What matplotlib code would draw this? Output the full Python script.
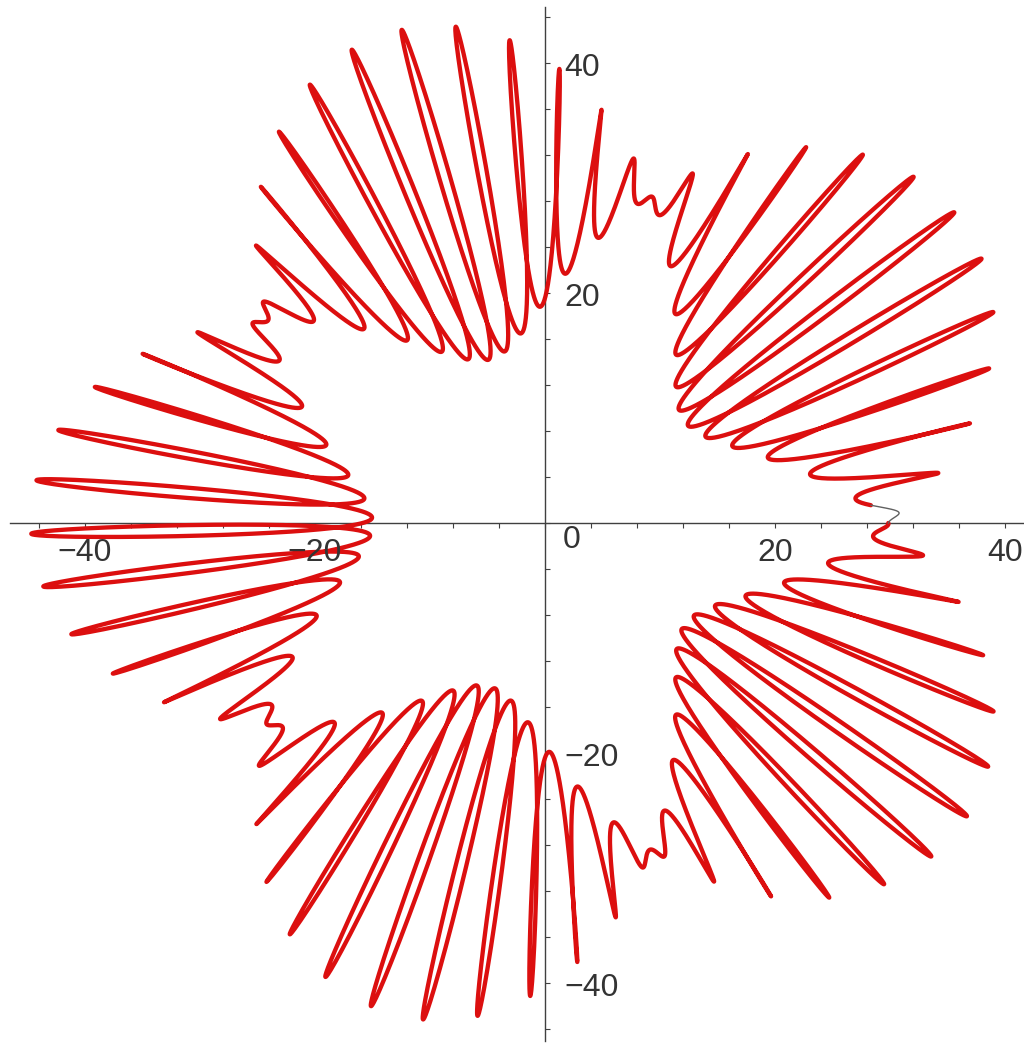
import numpy as np
import matplotlib
matplotlib.use("Agg")
import matplotlib.pyplot as plt
from matplotlib.ticker import MultipleLocator

# Curve parameters: a circle of radius mean_radius carrying 60 narrow loops
# whose radial swing is modulated into 5 lobes.
mean_radius = 29.85
swing = 14.85
loop_width = 1.25
lobes = 5
petals = 60
petal_phase_deg = -72.0
faint_span_deg = 3.4          # first stretch of the curve is drawn faint

tick_values = [-40, -20, 20, 40]
tick_texts = ["\u221240", "\u221220", "20", "40"]
minor_step = 4

t = np.linspace(0.0, 2.0 * np.pi, 40001)
envelope = np.sin(lobes * t / 2.0)
psi = petals * t + np.deg2rad(petal_phase_deg)
w = mean_radius + envelope * (swing * np.cos(psi) - 1j * loop_width * np.sin(psi))
z = np.exp(1j * t) * w
x, y = z.real, z.imag

px_per_unit = 11.5
W, H = 1024, 1044
ox, oy = 545, 523

fig = plt.figure(figsize=(W / 100, H / 100), dpi=100)
ax = fig.add_axes([0, 0, 1, 1])
ax.set_xlim(-ox / px_per_unit, (W - ox) / px_per_unit)
ax.set_ylim(-(H - oy) / px_per_unit, oy / px_per_unit)

faint = t <= np.deg2rad(faint_span_deg)
ax.plot(x[~faint], y[~faint], color="#dc0f0f", lw=3.1, solid_capstyle="round",
        solid_joinstyle="round", zorder=3)
ax.plot(x[faint], y[faint], color="#606060", lw=1.0, zorder=3)

# axes through the origin
for side in ("top", "right"):
    ax.spines[side].set_visible(False)
ax.spines["left"].set_position(("data", 0))
ax.spines["bottom"].set_position(("data", 0))
ax.spines["bottom"].set_bounds(-46.5, 41.6)
ax.spines["left"].set_bounds(-45.0, 44.9)
for side in ("left", "bottom"):
    ax.spines[side].set_color("#404040")
    ax.spines[side].set_linewidth(1.0)
    ax.spines[side].set_zorder(2)

ax.xaxis.set_major_locator(MultipleLocator(minor_step))
ax.yaxis.set_major_locator(MultipleLocator(minor_step))
ax.tick_params(axis="x", direction="out", length=3.6, width=0.8, color="#404040",
               labelbottom=False)
ax.tick_params(axis="y", direction="in", length=3.6, width=0.8, color="#404040",
               labelleft=False)

label_style = dict(family="Liberation Sans", fontsize=23, color="#333333")
for v, s in zip(tick_values, tick_texts):
    ax.text(v, -30 / px_per_unit, s, ha="center", va="center", **label_style)
    ax.text(19 / px_per_unit, v - 0.45, s, ha="left", va="center", **label_style)
ax.text(26.5 / px_per_unit, -16.5 / px_per_unit, "0", ha="center", va="center",
        **label_style)

fig.savefig("out.png", dpi=100)
